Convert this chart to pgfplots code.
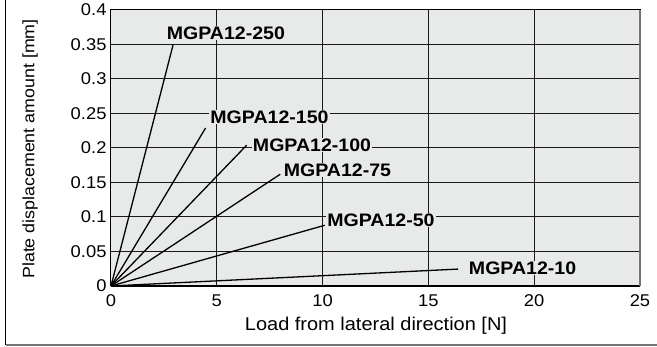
\documentclass[border=0pt]{standalone}
\usepackage{pgfplots}
\pgfplotsset{compat=1.18}
\usepackage{fontspec}
\setmainfont{Liberation Sans}[FakeStretch=1.08]
\definecolor{bg}{HTML}{E8E9E9}
\newcommand\tf{\fontsize{17}{19}\selectfont}
\begin{document}
\begin{tikzpicture}[x=1pt,y=1pt]
\path[use as bounding box] (0,0) rectangle (657,347);
\draw[black, line width=1pt] (5.5,347) -- (5.5,2);
\draw[black!55, line width=1.5pt] (5.5,2) -- (657,2);
\begin{axis}[
  at={(111pt,61pt)}, anchor=south west,
  scale only axis, width=529pt, height=276pt,
  xmin=0, xmax=25, ymin=0, ymax=0.4,
  xtick={0,5,10,15,20,25},
  xticklabels={{\tf 0},{\tf 5},{\tf 10},{\tf 15},{\tf 20},{\tf 25}},
  ytick={0,0.05,0.1,0.15,0.2,0.25,0.3,0.35,0.4},
  yticklabels={{\tf 0},{\tf 0.05},{\tf 0.1},{\tf 0.15},{\tf 0.2},{\tf 0.25},{\tf 0.3},{\tf 0.35},{\tf 0.4}},
  /pgf/number format/assume math mode=true,
  tick label style={font=\tf},
  yticklabel style={xshift=-1pt},
  xticklabel style={yshift=-5pt},
  major tick length=0pt,
  grid=major,
  major grid style={black!90, line width=1pt},
  axis background/.style={fill=bg},
  axis line style={black, line width=1pt},
  clip=false,
]
\addplot[black, line width=1.3pt] coordinates {(0,0) (2.93,0.349)};
\addplot[black, line width=1.3pt] coordinates {(0,0) (4.47,0.229)};
\addplot[black, line width=1.3pt] coordinates {(0,0) (6.41,0.204)};
\addplot[black, line width=1.3pt] coordinates {(0,0) (8.0,0.162)};
\addplot[black, line width=1.3pt] coordinates {(0,0) (10.1,0.088)};
\addplot[black, line width=1.3pt] coordinates {(0,0) (16.4,0.0245)};
\draw[black, line width=2pt] (axis cs:0,0) -- (axis cs:25,0);
\draw[black!55, line width=2pt] (axis cs:25,0) -- (axis cs:25,0.4);
\begin{scope}[every node/.style={fill=bg, inner sep=1pt, font=\fontsize{18.1}{20}\selectfont\bfseries}]
\node at (axis cs:5.43,0.3667) {MGPA12-250};
\node at (axis cs:7.49,0.245) {MGPA12-150};
\node at (axis cs:9.50,0.2043) {MGPA12-100};
\node at (axis cs:10.70,0.168) {MGPA12-75};
\node at (axis cs:12.76,0.0957) {MGPA12-50};
\node at (axis cs:19.45,0.026) {MGPA12-10};
\end{scope}
\end{axis}
\node[font=\fontsize{18.5}{20}\selectfont] at (376,21) {Load from lateral direction [N]};
\node[rotate=90, font=\fontsize{16.5}{20}\selectfont] at (30,198) {Plate displacement amount [mm]};
\end{tikzpicture}
\end{document}
